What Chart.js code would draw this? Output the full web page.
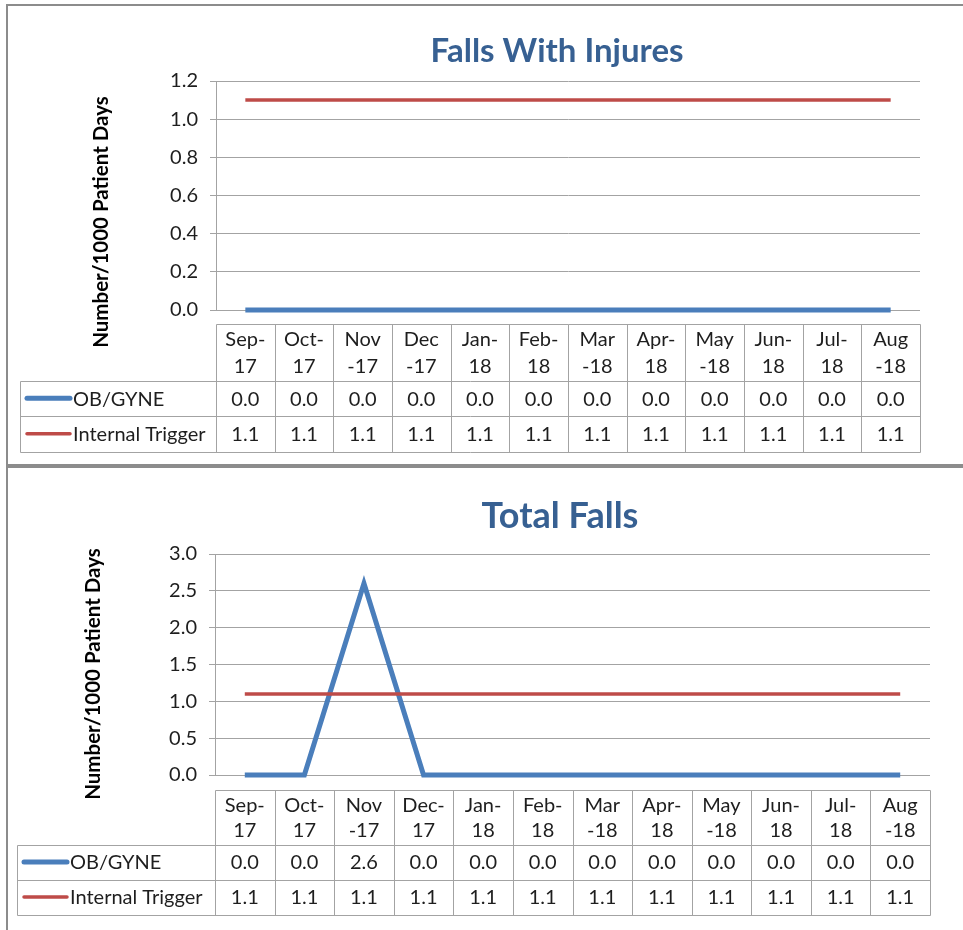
<!DOCTYPE html>
<html>
<head>
<meta charset="utf-8">
<title>Falls</title>
<script src="https://cdn.jsdelivr.net/npm/chart.js@4.4.1/dist/chart.umd.min.js"></script>
<style>
  html, body { margin: 0; padding: 0; background: #fff; }
  body { width: 963px; height: 930px; position: relative; overflow: hidden; }
  .panel { position: absolute; box-sizing: border-box; border: 2px solid #8c8c8c; background: #fff; }
  #p1 { left: 6px; top: 4px; width: 1000px; height: 462px; }
  #p2 { left: 6px; top: 466px; width: 1000px; height: 500px; }
  canvas { position: absolute; left: 0; }
  #injuryChart { top: 0; }
  #totalChart { top: 466px; }
</style>
</head>
<body>
<div class="panel" id="p1"></div>
<div class="panel" id="p2"></div>
<canvas id="injuryChart" width="963" height="463"></canvas>
<canvas id="totalChart" width="963" height="464"></canvas>

<script>
/* ================================================
   DATA
================================================ */

const INJURY_MONTHS = [
  ['Sep-', '17'], ['Oct-', '17'], ['Nov', '-17'], ['Dec', '-17'],
  ['Jan-', '18'], ['Feb-', '18'], ['Mar', '-18'], ['Apr-', '18'],
  ['May', '-18'], ['Jun-', '18'], ['Jul-', '18'], ['Aug', '-18'],
];
const TOTAL_MONTHS = [
  ['Sep-', '17'], ['Oct-', '17'], ['Nov', '-17'], ['Dec-', '17'],
  ['Jan-', '18'], ['Feb-', '18'], ['Mar', '-18'], ['Apr-', '18'],
  ['May', '-18'], ['Jun-', '18'], ['Jul-', '18'], ['Aug', '-18'],
];

const INJURY_OBGYNE  = [0.0, 0.0, 0.0, 0.0, 0.0, 0.0, 0.0, 0.0, 0.0, 0.0, 0.0, 0.0];
const INJURY_TRIGGER = [1.1, 1.1, 1.1, 1.1, 1.1, 1.1, 1.1, 1.1, 1.1, 1.1, 1.1, 1.1];

const TOTAL_OBGYNE  = [0.0, 0.0, 2.6, 0.0, 0.0, 0.0, 0.0, 0.0, 0.0, 0.0, 0.0, 0.0];
const TOTAL_TRIGGER = [1.1, 1.1, 1.1, 1.1, 1.1, 1.1, 1.1, 1.1, 1.1, 1.1, 1.1, 1.1];

const Y_TITLE = 'Number/1000 Patient Days';

/* ================================================
   COLORS / FONTS
================================================ */

const COL = {
  blue:  '#4a7ebb',
  red:   '#be4b48',
  title: '#376092',
  grid:  '#a3a3a3',
  text:  '#1e1e1e',
};
const FONT = 'Lato, "Open Sans", sans-serif';
const TEXT_SIZE = 20;

/* ================================================
   DATA TABLE PLUGIN (Excel style table + titles)
================================================ */

const dataTablePlugin = {
  id: 'dataTable',
  afterDraw(chart, args, o) {
    const ctx  = chart.ctx;
    const xs   = chart.scales.x;
    const area = chart.chartArea;
    const sets = chart.data.datasets;
    const n    = chart.data.labels.length;
    const colW = (area.right - area.left) / n;

    const hTop = Math.round(area.bottom + o.gap) + 0.5;
    const hBot = hTop + o.headerH;
    const tBot = hBot + sets.length * o.rowH;
    const px   = v => Math.round(v) + 0.5;

    ctx.save();

    /* chart title */
    ctx.font = 'bold ' + o.title.size + 'px ' + FONT;
    ctx.fillStyle = COL.title;
    ctx.textAlign = 'center';
    ctx.textBaseline = 'middle';
    ctx.fillText(o.title.text, o.title.x, o.title.y);

    /* grid */
    ctx.strokeStyle = COL.grid;
    ctx.lineWidth = 1;
    ctx.beginPath();
    ctx.moveTo(px(area.left), hTop); ctx.lineTo(px(area.right), hTop);
    for (let r = 0; r <= sets.length; r++) {
      const y = px(hBot + r * o.rowH);
      ctx.moveTo(px(o.legendLeft), y); ctx.lineTo(px(area.right), y);
    }
    for (let i = 0; i <= n; i++) {
      const x = px(area.left + i * colW);
      ctx.moveTo(x, hTop); ctx.lineTo(x, px(tBot));
    }
    ctx.moveTo(px(o.legendLeft), px(hBot)); ctx.lineTo(px(o.legendLeft), px(tBot));
    ctx.stroke();

    /* header */
    ctx.font = TEXT_SIZE + 'px ' + FONT;
    ctx.fillStyle = COL.text;
    o.header.forEach((pair, i) => {
      const cx = xs.getPixelForValue(i);
      ctx.fillText(pair[0], cx, hTop + o.headerH * 0.27);
      ctx.fillText(pair[1], cx, hTop + o.headerH * 0.75);
    });

    /* rows */
    sets.forEach((ds, r) => {
      const cy = hBot + r * o.rowH + o.rowH / 2 + 1;
      ctx.textAlign = 'center';
      ds.data.forEach((v, i) => ctx.fillText(v.toFixed(1), xs.getPixelForValue(i), cy));

      ctx.strokeStyle = ds.borderColor;
      ctx.lineWidth   = ds.borderWidth;
      ctx.lineCap     = 'round';
      ctx.beginPath();
      ctx.moveTo(o.legendLeft + 7, cy - 1);
      ctx.lineTo(o.legendLeft + 50, cy - 1);
      ctx.stroke();

      ctx.textAlign = 'left';
      ctx.fillText(ds.label, o.legendLeft + 53, cy);
    });

    /* rotated y title */
    ctx.font = 'bold 20.5px ' + FONT;
    ctx.fillStyle = '#000';
    ctx.textAlign = 'center';
    ctx.translate(o.yTitle.x, o.yTitle.y);
    ctx.rotate(-Math.PI / 2);
    ctx.fillText(Y_TITLE, 0, 0);

    ctx.restore();
  },
};

/* ================================================
   CHART BUILDER
================================================ */

function buildFallsChart(canvasId, title, months, obData, trigData, cfg) {
  const canvas = document.getElementById(canvasId);
  if (!canvas) return;

  return new Chart(canvas.getContext('2d'), {
    type: 'line',
    data: {
      labels: months.map(m => m.join('')),
      datasets: [
        {
          label: 'OB/GYNE',
          data: obData,
          borderColor: COL.blue,
          borderWidth: 5,
          clip: 4,
          order: 1,
        },
        {
          label: 'Internal Trigger',
          data: trigData,
          borderColor: COL.red,
          borderWidth: 3.5,
          clip: 4,
          order: 0,
        },
      ],
    },
    options: {
      responsive: false,
      animation: false,
      devicePixelRatio: 1,
      layout: {
        padding: { left: 0, right: cfg.padRight, top: cfg.chartTop, bottom: cfg.padBottom },
      },
      elements: {
        point: { radius: 0, hoverRadius: 0 },
        line:  { tension: 0, borderCapStyle: 'butt', borderJoinStyle: 'miter', fill: false },
      },
      plugins: {
        legend:  { display: false },
        tooltip: { enabled: false },
        title:   { display: false },
        dataTable: {
          title: { text: title, size: cfg.titleSize, x: cfg.titleX, y: cfg.titleY },
          header: months,
          legendLeft: cfg.legendLeft,
          gap: cfg.gap,
          headerH: cfg.headerH,
          rowH: cfg.rowH,
          yTitle: cfg.yTitle,
        },
      },
      scales: {
        x: {
          type: 'category',
          display: false,
          offset: true,
        },
        y: {
          min: 0,
          max: cfg.yMax,
          afterFit: s => { s.width = cfg.chartLeft; },
          ticks: {
            stepSize: cfg.yStep,
            padding: 12,
            color: COL.text,
            font: { family: FONT, size: TEXT_SIZE },
            callback: v => Number(v).toFixed(1),
          },
          grid:   { color: COL.grid, lineWidth: 1, tickLength: 6 },
          border: { display: true, color: COL.grid, width: 1 },
        },
      },
    },
    plugins: [dataTablePlugin],
  });
}

/* ================================================
   BUILD
================================================ */

buildFallsChart('injuryChart', 'Falls With Injures', INJURY_MONTHS, INJURY_OBGYNE, INJURY_TRIGGER, {
  chartLeft: 216, padRight: 43, padBottom: 153, chartTop: 81,
  titleSize: 33, titleX: 557, titleY: 51,
  yMax: 1.2, yStep: 0.2,
  legendLeft: 20, gap: 14, headerH: 56, rowH: 35.5,
  yTitle: { x: 101, y: 222 },
});

buildFallsChart('totalChart', 'Total Falls', TOTAL_MONTHS, TOTAL_OBGYNE, TOTAL_TRIGGER, {
  chartLeft: 215, padRight: 33, padBottom: 155, chartTop: 88,
  titleSize: 36, titleX: 560, titleY: 50,
  yMax: 3, yStep: 0.5,
  legendLeft: 17, gap: 15, headerH: 54, rowH: 35,
  yTitle: { x: 93, y: 208 },
});
</script>
</body>
</html>
